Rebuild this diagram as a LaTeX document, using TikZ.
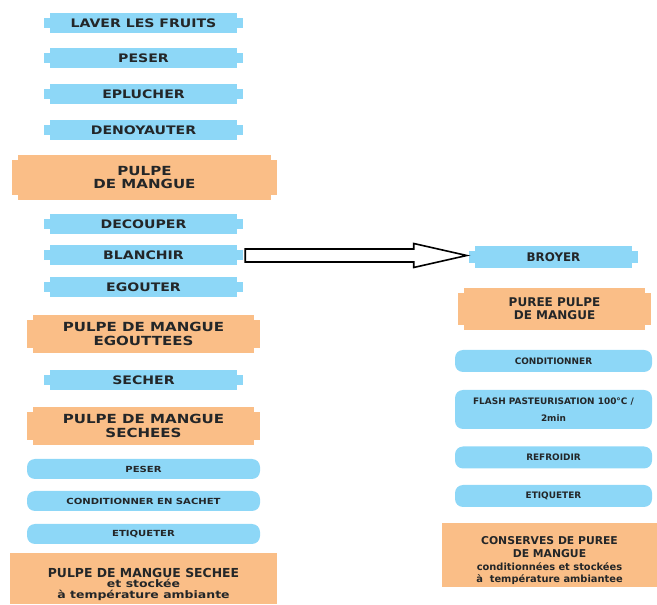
\documentclass[tikz,border=0pt]{standalone}
\usepackage{fontspec}
\usepackage{tikz}
\usetikzlibrary{calc}
\newfontfamily\stepfont[FakeStretch=1.2]{DejaVu Sans}
\newfontfamily\plainfont{DejaVu Sans}
\definecolor{stepblue}{RGB}{141,215,247}
\definecolor{pulporange}{RGB}{250,190,135}
\definecolor{inkgray}{RGB}{35,38,40}

\begin{document}
\begin{tikzpicture}[x=0.75pt, y=-0.75pt,
    notched/.style={rectangle, inner sep=0pt, align=center, text=inkgray, fill=white,
        path picture={
            \fill[#1] ($(path picture bounding box.north west)+(6,0)$) rectangle ($(path picture bounding box.south east)+(-6,0)$);
            \fill[#1] ($(path picture bounding box.north west)+(0,5)$) rectangle ($(path picture bounding box.south east)+(0,-5)$);}},
    stepbox/.style={notched=stepblue, minimum width=149.25pt, minimum height=15pt,
        font=\stepfont\bfseries\fontsize{8.8}{10}\selectfont},
    pulpbox/.style={notched=pulporange, font=\stepfont\bfseries\fontsize{9.4}{10}\selectfont},
    roundbox/.style={rectangle, rounded corners=6pt, fill=stepblue, text=inkgray, align=center, inner sep=0pt},
    storebox/.style={rectangle, fill=pulporange, text=inkgray, align=center, inner sep=0pt},
    blockarrow/.style={draw=black, fill=white, line width=1.2pt, line join=miter}]
    \useasboundingbox (0,0) rectangle (657,605);

    % mangue sechee
    \foreach \n/\y/\t in {laver/23/LAVER LES FRUITS, peser/58.5/PESER, eplucher/94/EPLUCHER,
        denoyauter/130/DENOYAUTER, decouper/224/DECOUPER, blanchir/255.5/BLANCHIR,
        egouter/287/EGOUTER, secher/380/SECHER}
        \node[stepbox] (\n) at (143.5,\y) {\t};
    \node[pulpbox, minimum width=198.75pt, minimum height=33.75pt] (pulpe) at (144.5,177.5) {PULPE\\DE MANGUE};
    \node[pulpbox, minimum width=174.75pt, minimum height=28.5pt] (egouttees) at (143.5,334) {PULPE DE MANGUE\\EGOUTTEES};
    \node[pulpbox, minimum width=174.75pt, minimum height=28.5pt] (sechees) at (143.5,426) {PULPE DE MANGUE\\SECHEES};
    \foreach \n/\y/\t in {pesersec/469/PESER, sachet/501/CONDITIONNER EN SACHET, etiqsec/534/ETIQUETER}
        \node[roundbox, minimum width=174.75pt, minimum height=15pt,
            font=\stepfont\bfseries\fontsize{6.3}{8}\selectfont] (\n) at (143.5,\y) {\t};
    \node[storebox, minimum width=200.25pt, minimum height=38.25pt,
        font=\plainfont\bfseries\fontsize{9.3}{8}\selectfont] (stocksec) at (143.5,578.5)
        {\rule{0pt}{15.6pt}PULPE DE MANGUE SECHEE\\{\stepfont\fontsize{7.8}{8}\selectfont et stockée}\\{\stepfont\fontsize{7.8}{8}\selectfont à température ambiante}};

    % puree
    \node[stepbox, minimum width=126.75pt, minimum height=16.5pt,
        font=\plainfont\bfseries\fontsize{8.9}{10}\selectfont] (broyer) at (553.5,257) {BROYER};
    \node[pulpbox, minimum width=144.75pt, minimum height=31.5pt,
        font=\plainfont\bfseries\fontsize{9}{10}\selectfont] (puree) at (554.5,309) {PUREE PULPE\\DE MANGUE};
    \foreach \n/\y/\t in {condit/361/CONDITIONNER, refroidir/457.5/REFROIDIR, etiqpuree/496/ETIQUETER}
        \node[roundbox, minimum width=147.75pt, minimum height=16.5pt,
            font=\plainfont\bfseries\fontsize{6.7}{8}\selectfont] (\n) at (553.5,\y) {\t};
    \node[roundbox, minimum width=147.75pt, minimum height=29.25pt,
        font=\plainfont\bfseries\fontsize{6.7}{12.75}\selectfont] (flash) at (553.5,409.5)
        {FLASH PASTEURISATION 100°C /\\2min};
    \node[storebox, minimum width=161.25pt, minimum height=48pt,
        font=\plainfont\bfseries\fontsize{8.1}{9.5}\selectfont] (conserves) at (549.5,555)
        {\rule{0pt}{15pt}CONSERVES DE PUREE\\DE MANGUE\\{\fontsize{7.4}{9.5}\selectfont conditionnées et stockées}\\{\fontsize{7.4}{9.5}\selectfont à\ \ température ambiantee}};

    % fleche blanchir -> broyer
    \coordinate (from) at ($(blanchir.east)+(2,0)$);
    \coordinate (tip) at ($(broyer.west |- from)+(-2,0)$);
    \draw[blockarrow] ($(from)+(0,-6.5)$) -- ($(tip)+(-53,-6.5)$) -- ($(tip)+(-53,-12)$) -- (tip)
        -- ($(tip)+(-53,12)$) -- ($(tip)+(-53,6.5)$) -- ($(from)+(0,6.5)$) -- cycle;
\end{tikzpicture}
\end{document}
